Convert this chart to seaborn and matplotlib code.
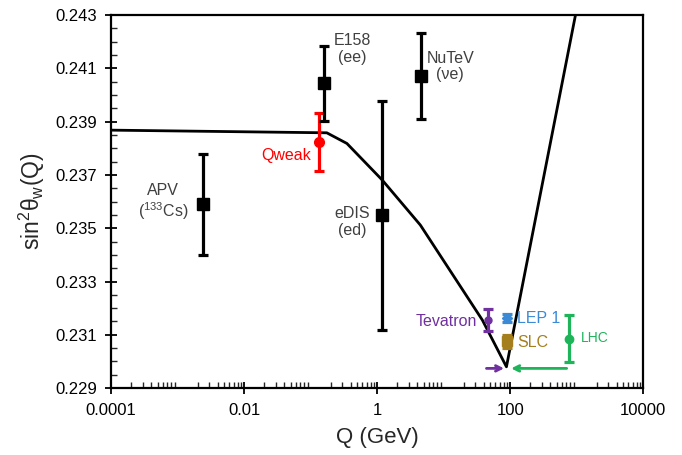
import numpy as np
import pandas as pd
import seaborn as sns
import matplotlib.pyplot as plt
from matplotlib.ticker import LogLocator, MultipleLocator, FixedLocator

# running of sin^2 theta_W
curve_q = [1e-4, 0.175, 0.351, 1.19, 4.46, 38.3, 88.0, 961.0, 1500.0]
curve_s = [0.23868, 0.23858, 0.23818, 0.23681, 0.23512, 0.23155, 0.22980, 0.24300, 0.24690]

# measurements
names = ["APV", "Qweak", "E158", "NuTeV", "eDIS", "Tevatron", "LEP 1", "SLC", "LHC"]
q_vals = [0.0024, 0.135, 0.161, 4.56, 1.2, 46.0, 91.2, 91.2, 780.0]
s_vals = [0.23590, 0.23824, 0.24044, 0.24071, 0.23549, 0.23155, 0.23162, 0.23076, 0.23086]
s_err = [0.0019, 0.0011, 0.0014, 0.0016, 0.0043, 0.0004, 0.00015, 0.00025, 0.00088]
colors = ["black", "#ff0000", "black", "black", "black", "#7030a0", "#3a8ad6", "#a57f1c", "#1db45a"]
markers = ["s", "o", "s", "s", "s", "o", "D", "s", "o"]
msizes = [8, 7, 8, 8, 8, 5, 5, 7, 6]

# arrows toward the Z pole
arrow_y = 0.22974
z_pole = 91.2
tev_arrow_start = 40.0
lhc_arrow_start = 780.0

sns.set_style("ticks")
plt.rcParams['font.family'] = ['Liberation Sans', 'DejaVu Sans']
plt.rcParams['mathtext.default'] = 'regular'

fig = plt.figure(figsize=(6.82, 4.55), dpi=100)
ax = fig.add_axes([0.163, 0.147, 0.78, 0.82])

df = pd.DataFrame({"Q": curve_q, "s": curve_s})
sns.lineplot(data=df, x="Q", y="s", ax=ax, color="black", lw=2, sort=False, estimator=None)

for n, q, s, e, c, m, ms in zip(names, q_vals, s_vals, s_err, colors, markers, msizes):
    ax.errorbar(q, s, yerr=e, fmt="none", ecolor=c, elinewidth=2.3, capsize=3.5, capthick=2.3, zorder=3)
    ax.plot(q, s, marker=m, color=c, ms=ms, ls="none", zorder=4)

ax.annotate("", xy=(z_pole * 0.98, arrow_y), xytext=(tev_arrow_start, arrow_y),
            arrowprops=dict(arrowstyle="->", color="#7030a0", lw=2))
ax.annotate("", xy=(z_pole * 1.03, arrow_y), xytext=(lhc_arrow_start, arrow_y),
            arrowprops=dict(arrowstyle="->", color="#1db45a", lw=2))

grey = "#404040"
lab = dict(ha="center", va="center", fontsize=11.5, color=grey, linespacing=1.15)
ax.text(0.0006, 0.23596, "APV\n($^{133}$Cs)", **lab)
ax.text(0.42, 0.24172, "E158\n(ee)", **lab)
ax.text(12.6, 0.24107, "NuTeV\n(νe)", **lab)
ax.text(0.42, 0.23523, "eDIS\n(ed)", **lab)
ax.text(0.1, 0.23771, "Qweak", ha="right", va="center", fontsize=11.5, color="#ff0000")
ax.text(32, 0.23151, "Tevatron", ha="right", va="center", fontsize=11.5, color="#7030a0")
ax.text(126, 0.23163, "LEP 1", ha="left", va="center", fontsize=11.5, color="#3a8ad6")
ax.text(127, 0.23073, "SLC", ha="left", va="center", fontsize=11.5, color="#a57f1c")
ax.text(1150, 0.23088, "LHC", ha="left", va="center", fontsize=10, color="#1db45a")

ax.set_xscale("log")
ax.set_xlim(1e-4, 1e4)
ax.set_ylim(0.229, 0.243)
ax.xaxis.set_major_locator(FixedLocator([1e-4, 1e-2, 1, 1e2, 1e4]))
ax.set_xticklabels(["0.0001", "0.01", "1", "100", "10000"])
ax.xaxis.set_minor_locator(LogLocator(base=10, subs=np.arange(2, 10), numticks=20))
ax.yaxis.set_major_locator(FixedLocator(np.arange(0.229, 0.2431, 0.002)))
ax.yaxis.set_minor_locator(MultipleLocator(0.0005))
ax.yaxis.set_major_formatter(plt.FormatStrFormatter("%.3f"))

ax.tick_params(which="major", direction="inout", length=8, width=1.3, labelsize=12, colors="black")
ax.tick_params(axis="x", which="major", pad=7)
ax.tick_params(axis="y", which="major", pad=6)
ax.tick_params(which="minor", direction="in", length=4, width=1)
for sp in ax.spines.values():
    sp.set_linewidth(1.6)
    sp.set_color("black")

ax.set_xlabel("Q (GeV)", fontsize=16, labelpad=6)
ax.set_ylabel("sin$^2$θ$_w$(Q)", fontsize=16.5, labelpad=6)

fig.savefig("out.png", dpi=100)
